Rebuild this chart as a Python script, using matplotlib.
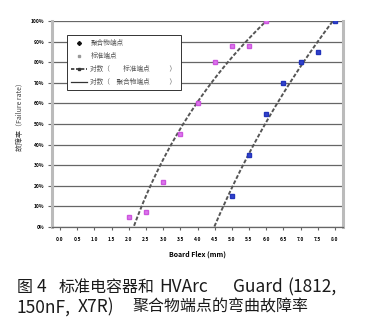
import numpy as np
import matplotlib
matplotlib.use('Agg')
import matplotlib.pyplot as plt
from matplotlib.lines import Line2D

plt.rcParams['font.family'] = ['Noto Sans CJK SC', 'DejaVu Sans']

# 数据: 从图上估读
std_x = [2.0, 2.5, 3.0, 3.5, 4.0, 4.5, 5.0, 5.5, 6.0]
std_y = [5, 7.5, 22, 45, 60, 80, 88, 88, 100]
poly_x = [5.0, 5.5, 6.0, 6.5, 7.0, 7.5, 8.0]
poly_y = [15, 35, 55, 70, 80, 85, 100]

x_ticks = [0.0, 0.5, 1.0, 1.5, 2.0, 2.5, 3.0, 3.5, 4.0, 4.5, 5.0, 5.5, 6.0, 6.5, 7.0, 7.5, 8.0]
y_ticks = [0, 10, 20, 30, 40, 50, 60, 70, 80, 90, 100]
y_tick_labels = ['0%', '10%', '20%', '30%', '40%', '50%', '60%', '70%', '80%', '90%', '100%']


def log_trend(x, y):
    # Excel 式的对数趋势线 y = a*ln(x) + b
    a, b = np.polyfit(np.log(x), y, 1)
    xx = np.linspace(1.0, 8.2, 500)
    yy = a * np.log(xx) + b
    m = (yy >= 0) & (yy <= 100.5)
    return xx[m], yy[m]


W, H = 367, 336
fig = plt.figure(figsize=(W / 100, H / 100), dpi=100)
ax = fig.add_axes([52 / W, 1 - 227 / H, 291 / W, 206 / H])

# 趋势线
tx, ty = log_trend(std_x, std_y)
ax.plot(tx, ty, color='#555555', lw=1.4, ls=(0, (2, 1)), zorder=3)
tx, ty = log_trend(poly_x, poly_y)
ax.plot(tx, ty, color='#555555', lw=1.4, ls=(0, (2, 1)), zorder=3)

# 数据点
ax.plot(std_x, std_y, 's', color='#dd77ee', ms=3.2, mec='#cc55dd', zorder=4)
ax.plot(poly_x, poly_y, 's', color='#3344cc', ms=3.2, mec='#2233bb', zorder=4)

ax.set_xlim(-0.233, 8.233)
ax.set_ylim(0, 100)
ax.set_xticks(x_ticks)
ax.set_xticklabels([f'{v:.1f}' for v in x_ticks])
ax.set_yticks(y_ticks)
ax.set_yticklabels(y_tick_labels)
ax.yaxis.grid(True, color='#666666', lw=0.9)
ax.set_axisbelow(True)

for s in ['left', 'right']:
    ax.spines[s].set_color('#bbbbbb')
    ax.spines[s].set_linewidth(2.2)
ax.spines['top'].set_visible(False)
ax.spines['bottom'].set_color('#666666')
ax.spines['bottom'].set_linewidth(0.9)
ax.tick_params(axis='y', length=3, width=0.8, color='#666666', labelsize=3.5, pad=2.5)
ax.tick_params(axis='x', length=2, width=0.8, color='#666666', labelsize=3.5, pad=5)
for lab in ax.get_xticklabels() + ax.get_yticklabels():
    lab.set_fontweight('bold')

handles = [
    Line2D([], [], ls='none', marker='D', color='#111111', ms=2),
    Line2D([], [], ls='none', marker='s', color='#999999', ms=2),
    Line2D([], [], color='#333333', lw=1.2, ls=(0, (2, 1)), marker='s', ms=1.5, markevery=[1]),
    Line2D([], [], color='#333333', lw=0.9),
]
sp = '\u3000'
labels = ['聚合物端点', '标准端点',
          '对数（' + sp * 2 + '标准端点' + sp * 3 + '）',
          '对数（' + sp + '聚合物端点' + sp * 3 + '）']
leg = ax.legend(handles, labels, loc='upper left', bbox_to_anchor=(0.052, 0.932),
                borderaxespad=0, fontsize=4.8, frameon=True, fancybox=False,
                framealpha=1, edgecolor='#333333', handlelength=2.4, handletextpad=0.5,
                labelspacing=0.75, borderpad=0.6)
leg.get_frame().set_linewidth(0.7)
for t in leg.get_texts():
    t.set_color('#555555')

fig.text(20 / W, 1 - 115 / H, '故障率（Failure rate）', rotation=90, ha='center', va='center',
         fontsize=5, color='#444444')
fig.text(197 / W, 1 - 254 / H, 'Board Flex (mm)', ha='center', va='center',
         fontsize=5, fontweight='bold')

# 图注
y1, y2 = 287.5, 307.5
cap = [
    (17, y1, '图', 11.5), (37, y1, '4', 12.5), (59, y1, '标准电容器和', 11.5),
    (159, y1, 'HVArc', 12.5), (233, y1, 'Guard', 12.5), (287, y1, '(1812,', 12.5),
    (17, y2, '150nF,', 12.5), (78, y2, 'X7R)', 12.5), (132, y2, '聚合物端点的弯曲故障率', 11.5),
]
for x, y, s, fs in cap:
    fig.text(x / W, 1 - y / H, s, ha='left', va='center', fontsize=fs, color='#1a1a1a')

fig.savefig('out.png', dpi=100)
